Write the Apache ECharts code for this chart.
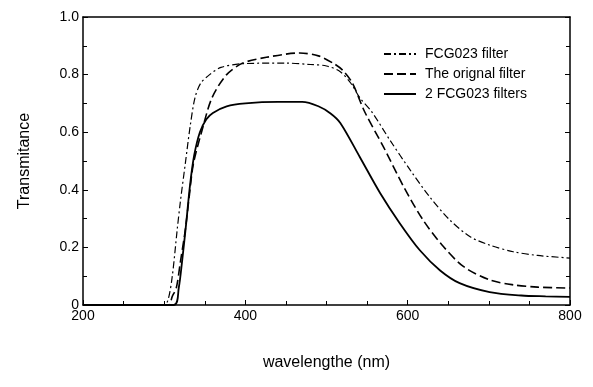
<!DOCTYPE html>
<html>
<head>
<meta charset="utf-8">
<script src="https://cdn.jsdelivr.net/npm/echarts@6/dist/echarts.min.js"></script>
<style>html,body{margin:0;padding:0;background:#fff}#c{width:593px;height:387px}</style>
</head>
<body>
<div id="c"></div>
<script>
var seriesNames = ['FCG023 filter', 'The orignal filter', '2 FCG023 filters'];
var xTicks = [200, 400, 600, 800];
var yTicks = [0, 0.2, 0.4, 0.6, 0.8, 1.0];

var fcgX = [200, 300, 305, 310, 316, 320, 326, 332, 338, 345, 356, 370, 397, 450, 480, 500, 517, 530, 541, 556, 578, 603, 627, 652, 677, 701, 730, 760, 800];
var fcgY = [0, 0, 0.02, 0.1, 0.26, 0.36, 0.49, 0.62, 0.72, 0.77, 0.80, 0.825, 0.838, 0.84, 0.835, 0.83, 0.81, 0.77, 0.72, 0.67, 0.573, 0.469, 0.376, 0.295, 0.237, 0.208, 0.185, 0.172, 0.163];

var origX = [200, 305, 310, 315, 320, 326, 331, 336, 347, 359, 377, 397, 426, 467, 490, 508, 520, 532, 547, 570, 595, 619, 644, 669, 701, 730, 760, 800];
var origY = [0, 0, 0.03, 0.06, 0.15, 0.26, 0.38, 0.49, 0.61, 0.72, 0.80, 0.84, 0.86, 0.875, 0.865, 0.84, 0.815, 0.77, 0.671, 0.55, 0.411, 0.295, 0.203, 0.133, 0.087, 0.07, 0.062, 0.059];

var twoX = [200, 312, 318, 322, 327, 332, 337, 344, 352, 360, 377, 400, 440, 470, 490, 505, 517, 541, 566, 590, 615, 640, 664, 701, 740, 770, 800];
var twoY = [0, 0, 0.06, 0.15, 0.28, 0.42, 0.52, 0.60, 0.645, 0.667, 0.69, 0.70, 0.705, 0.705, 0.69, 0.665, 0.632, 0.514, 0.389, 0.285, 0.19, 0.12, 0.076, 0.045, 0.033, 0.03, 0.028];

function pairs(xs, ys) { return xs.map(function (x, i) { return [x, ys[i]]; }); }

var font = 'Liberation Sans, Arial, sans-serif';
var chart = echarts.init(document.getElementById('c'), null, {renderer: 'canvas'});
chart.setOption({
  animation: false,
  backgroundColor: '#fff',
  grid: {left: 83, right: 23, top: 17, bottom: 82, show: false},
  legend: {
    orient: 'vertical', left: 378, top: 42, itemWidth: 32, itemHeight: 12, itemGap: 6,
    data: seriesNames,
    itemStyle: {opacity: 0},
    textStyle: {fontFamily: font, fontSize: 14, color: '#000', padding: [0, 0, 0, 4]}
  },
  xAxis: [{
    type: 'value', min: 200, max: 800, interval: 200,
    name: 'wavelengthe (nm)', nameLocation: 'middle', nameGap: 50,
    nameTextStyle: {fontFamily: font, fontSize: 16, color: '#000'},
    axisLine: {show: true, lineStyle: {color: '#000', width: 1.5}},
    axisTick: {show: true, inside: true, length: 5, lineStyle: {color: '#000'}},
    minorTick: {show: true, splitNumber: 4, length: 4, lineStyle: {color: '#000'}},
    axisLabel: {fontFamily: font, fontSize: 14, color: '#000', margin: 4,
      formatter: function (v) { return xTicks.indexOf(v) >= 0 ? String(v) : ''; }},
    splitLine: {show: false}
  }, {
    type: 'value', min: 200, max: 800, position: 'top',
    axisLine: {show: true, onZero: false, lineStyle: {color: '#000', width: 1.5}},
    axisTick: {show: false}, axisLabel: {show: false}, splitLine: {show: false}
  }],
  yAxis: [{
    type: 'value', min: 0, max: 1, interval: 0.2,
    name: 'Transmitance', nameLocation: 'middle', nameGap: 50,
    nameTextStyle: {fontFamily: font, fontSize: 16, color: '#000'},
    axisLine: {show: true, lineStyle: {color: '#000', width: 1.5}},
    axisTick: {show: true, inside: true, length: 5, lineStyle: {color: '#000'}},
    minorTick: {show: true, splitNumber: 2, length: 4, lineStyle: {color: '#000'}},
    axisLabel: {fontFamily: font, fontSize: 14, color: '#000', margin: 4,
      formatter: function (v) { var i = yTicks.indexOf(v); return v === 0 ? '0' : (i >= 0 ? v.toFixed(1) : ''); }},
    splitLine: {show: false}
  }, {
    type: 'value', min: 0, max: 1, interval: 0.2, position: 'right',
    axisLine: {show: true, onZero: false, lineStyle: {color: '#000', width: 1.5}},
    axisTick: {show: true, inside: true, length: 5, lineStyle: {color: '#000'}},
    minorTick: {show: true, splitNumber: 2, length: 4, lineStyle: {color: '#000'}},
    axisLabel: {show: false}, splitLine: {show: false}
  }],
  series: [{
    name: seriesNames[0], type: 'line', data: pairs(fcgX, fcgY), symbol: 'none',
    smooth: 0.3, color: '#000',
    lineStyle: {color: '#000', width: 1.2, type: [7, 3, 2, 3]}
  }, {
    name: seriesNames[1], type: 'line', data: pairs(origX, origY), symbol: 'none',
    smooth: 0.3, color: '#000',
    lineStyle: {color: '#000', width: 1.6, type: [9, 4]}
  }, {
    name: seriesNames[2], type: 'line', data: pairs(twoX, twoY), symbol: 'none',
    smooth: 0.3, color: '#000',
    lineStyle: {color: '#000', width: 1.8, type: 'solid'}
  }]
});
</script>
</body>
</html>
